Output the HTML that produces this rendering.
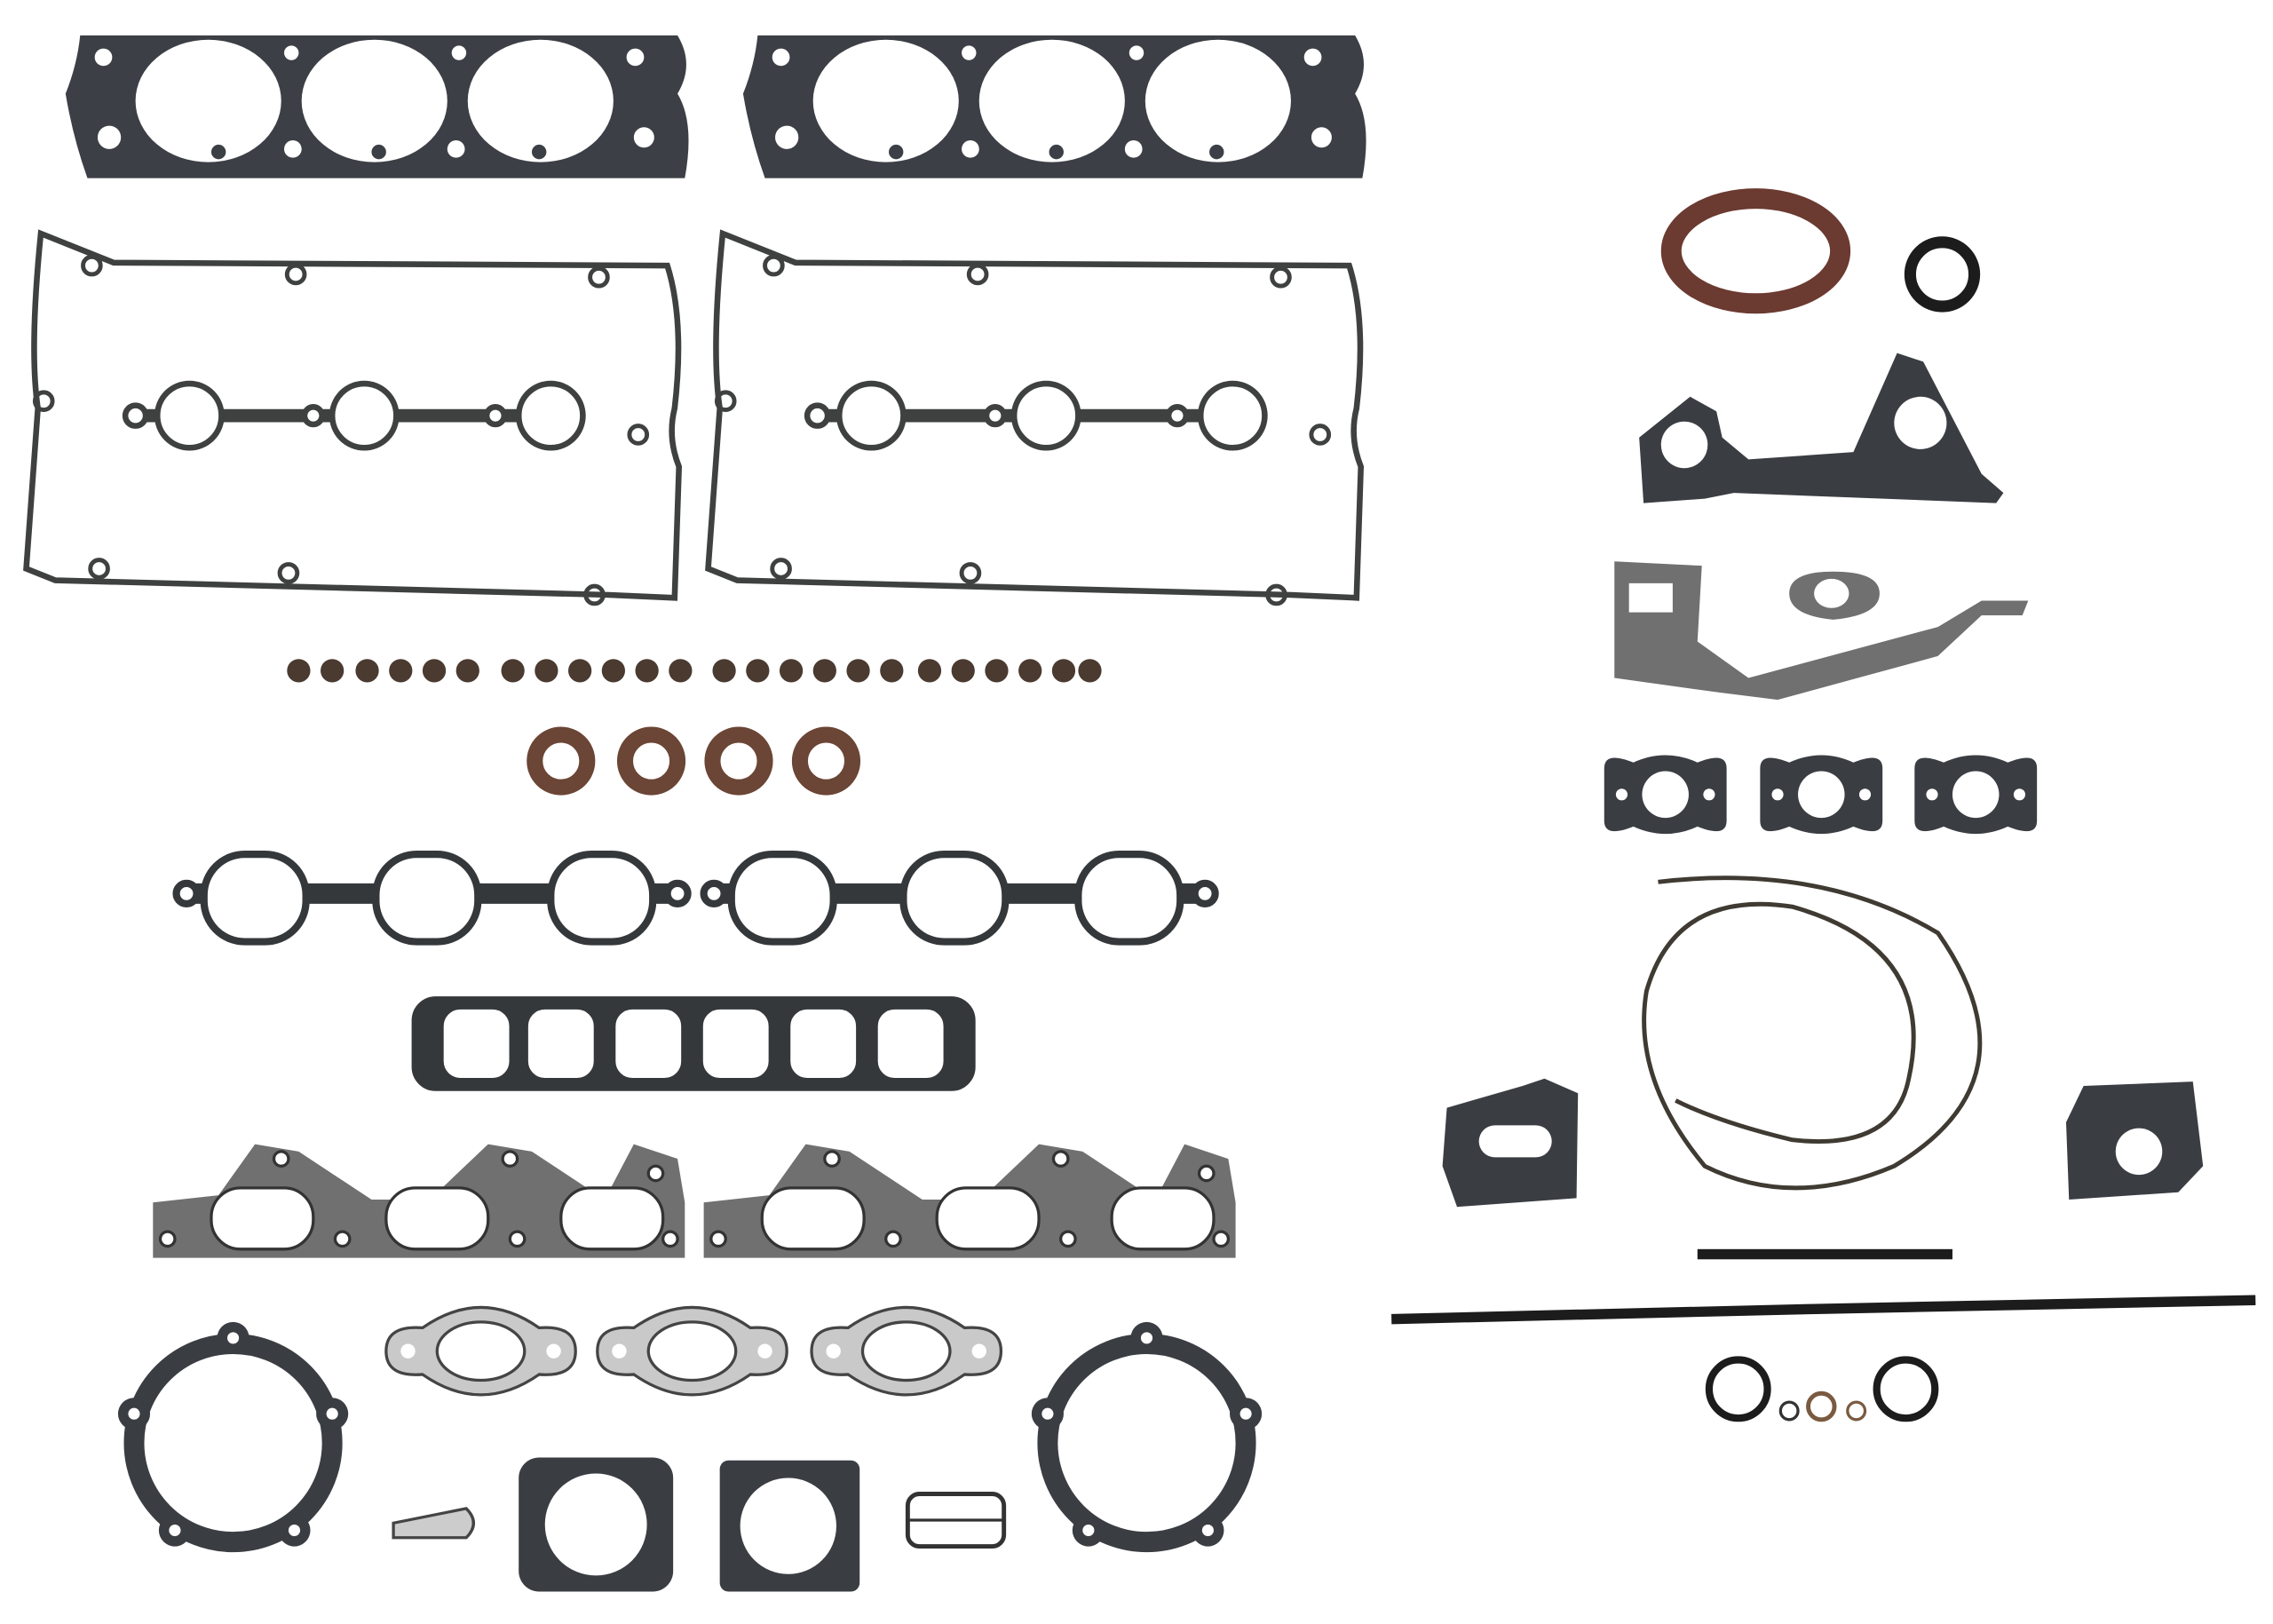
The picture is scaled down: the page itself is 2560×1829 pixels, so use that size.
<!DOCTYPE html>
<html><head><meta charset="utf-8"><style>html,body{margin:0;padding:0;background:#fff}svg{display:block}</style></head>
<body>
<svg width="2560" height="1829" viewBox="0 0 1560 1114" xmlns="http://www.w3.org/2000/svg">
<rect width="1560" height="1114" fill="#fff"/>
<defs>
<g id="head">
 <path fill-rule="evenodd" fill="#3c3f45" d="M10,0 H420 Q432,20 420,40 Q432,60 425,98 H15 Q5,70 0,40 Q8,20 10,0 Z
 M48,45 a50,42 0 1,0 100,0 a50,42 0 1,0 -100,0 Z
 M162,45 a50,42 0 1,0 100,0 a50,42 0 1,0 -100,0 Z
 M276,45 a50,42 0 1,0 100,0 a50,42 0 1,0 -100,0 Z
 M20,15 a6,6 0 1,0 12,0 a6,6 0 1,0 -12,0 Z M22,70 a8,8 0 1,0 16,0 a8,8 0 1,0 -16,0 Z
 M150,12 a5,5 0 1,0 10,0 a5,5 0 1,0 -10,0 Z M150,78 a6,6 0 1,0 12,0 a6,6 0 1,0 -12,0 Z
 M265,12 a5,5 0 1,0 10,0 a5,5 0 1,0 -10,0 Z M262,78 a6,6 0 1,0 12,0 a6,6 0 1,0 -12,0 Z
 M385,15 a6,6 0 1,0 12,0 a6,6 0 1,0 -12,0 Z M390,70 a7,7 0 1,0 14,0 a7,7 0 1,0 -14,0 Z
 M100,80 a5,5 0 1,0 10,0 a5,5 0 1,0 -10,0 Z M210,80 a5,5 0 1,0 10,0 a5,5 0 1,0 -10,0 Z M320,80 a5,5 0 1,0 10,0 a5,5 0 1,0 -10,0 Z"/>
</g>
<g id="vc" fill="none" stroke="#3e4140">
 <path stroke-width="4" d="M10,0 L60,20 L440,22 Q452,60 445,120 Q440,140 448,160 L445,250 L400,248 L20,238 L0,230 L8,120 Q2,80 10,0 Z"/>
 <g stroke-width="3"><circle cx="45" cy="22" r="6"/><circle cx="185" cy="28" r="6"/><circle cx="393" cy="30" r="6"/><circle cx="420" cy="138" r="6"/><circle cx="12" cy="115" r="6"/><circle cx="50" cy="230" r="6"/><circle cx="180" cy="233" r="6"/><circle cx="390" cy="248" r="6"/></g>
 <path stroke-width="9" d="M80,125 H380"/>
 <g stroke-width="4" fill="#fff"><circle cx="112" cy="125" r="22"/><circle cx="232" cy="125" r="22"/><circle cx="360" cy="125" r="22"/><circle cx="75" cy="125" r="7"/><circle cx="197" cy="125" r="6"/><circle cx="322" cy="125" r="6"/></g>
</g>
<g id="im" fill="#fff" stroke="#35383b" stroke-width="5">
 <path stroke-width="14" d="M10,35 H340"/>
 <rect x="20" y="8" width="70" height="60" rx="28"/><rect x="138" y="8" width="70" height="60" rx="28"/><rect x="258" y="8" width="70" height="60" rx="28"/>
 <circle cx="8" cy="35" r="7"/><circle cx="345" cy="35" r="7"/>
</g>
<g id="ex">
 <path fill="#707070" d="M0,40 L45,35 L70,0 L100,5 L150,38 L190,38 L230,0 L260,5 L310,38 L330,0 L360,10 L365,40 L365,78 L0,78 Z"/>
 <g fill="#fff" stroke="#333" stroke-width="2"><rect x="40" y="30" width="70" height="42" rx="20"/><rect x="160" y="30" width="70" height="42" rx="20"/><rect x="280" y="30" width="70" height="42" rx="20"/>
 <circle cx="10" cy="65" r="5"/><circle cx="88" cy="10" r="5"/><circle cx="245" cy="10" r="5"/><circle cx="345" cy="20" r="5"/><circle cx="355" cy="65" r="5"/><circle cx="130" cy="65" r="5"/><circle cx="250" cy="65" r="5"/></g>
</g>
<g id="fl"><path fill="#c9c9c9" stroke="#444" stroke-width="2" d="M0,30 Q0,12 25,14 Q45,0 65,0 Q85,0 105,14 Q130,12 130,30 Q130,48 105,46 Q85,60 65,60 Q45,60 25,46 Q0,48 0,30 Z"/>
<ellipse cx="65" cy="30" rx="30" ry="20" fill="#fff" stroke="#444" stroke-width="2"/><circle cx="15" cy="30" r="5" fill="#fff"/><circle cx="115" cy="30" r="5" fill="#fff"/></g>
<g id="ring"><circle r="68" fill="none" stroke="#3a3d42" stroke-width="14"/>
<g fill="#3a3d42"><circle cx="0" cy="-72" r="11"/><circle cx="68" cy="-20" r="11"/><circle cx="-68" cy="-20" r="11"/><circle cx="-40" cy="60" r="11"/><circle cx="42" cy="60" r="11"/></g>
<g fill="#fff"><circle cx="0" cy="-72" r="4"/><circle cx="68" cy="-20" r="4"/><circle cx="-68" cy="-20" r="4"/><circle cx="-40" cy="60" r="4"/><circle cx="42" cy="60" r="4"/></g></g>
<g id="ear"><path fill="#3a3d42" d="M-42,-18 Q-42,-30 -22,-22 Q0,-32 22,-22 Q42,-30 42,-18 L42,18 Q42,30 22,22 Q0,32 -22,22 Q-42,30 -42,18 Z"/>
<circle r="16" fill="#fff"/><circle cx="-30" r="4" fill="#fff"/><circle cx="30" r="4" fill="#fff"/></g>
</defs>

<use href="#head" x="45" y="24"/>
<use href="#head" x="510" y="24"/>
<use href="#vc" x="18" y="160"/>
<use href="#vc" x="486" y="160"/>

<g fill="#4a3a30">
<circle cx="205" cy="460" r="8"/><circle cx="228" cy="460" r="8"/><circle cx="252" cy="460" r="8"/><circle cx="275" cy="460" r="8"/><circle cx="298" cy="460" r="8"/><circle cx="321" cy="460" r="8"/>
<circle cx="352" cy="460" r="8"/><circle cx="375" cy="460" r="8"/><circle cx="398" cy="460" r="8"/><circle cx="421" cy="460" r="8"/><circle cx="444" cy="460" r="8"/><circle cx="467" cy="460" r="8"/>
<circle cx="497" cy="460" r="8"/><circle cx="520" cy="460" r="8"/><circle cx="543" cy="460" r="8"/><circle cx="566" cy="460" r="8"/><circle cx="589" cy="460" r="8"/><circle cx="612" cy="460" r="8"/>
<circle cx="638" cy="460" r="8"/><circle cx="661" cy="460" r="8"/><circle cx="684" cy="460" r="8"/><circle cx="707" cy="460" r="8"/><circle cx="730" cy="460" r="8"/><circle cx="748" cy="460" r="8"/>
</g>
<g fill="none" stroke="#6b4535" stroke-width="11"><circle cx="385" cy="522" r="18"/><circle cx="447" cy="522" r="18"/><circle cx="507" cy="522" r="18"/><circle cx="567" cy="522" r="18"/></g>

<use href="#im" x="120" y="578"/>
<use href="#im" x="482" y="578"/>

<g fill="#fff" stroke="#35383b" stroke-width="5">
<rect x="285" y="686" width="382" height="60" rx="14" fill="#35383b"/>
<rect x="302" y="690" width="50" height="52" rx="14"/><rect x="360" y="690" width="50" height="52" rx="14"/><rect x="420" y="690" width="50" height="52" rx="14"/><rect x="480" y="690" width="50" height="52" rx="14"/><rect x="540" y="690" width="50" height="52" rx="14"/><rect x="600" y="690" width="50" height="52" rx="14"/>
</g>

<use href="#ex" x="105" y="785"/>
<use href="#ex" x="483" y="785"/>

<use href="#fl" x="265" y="897"/><use href="#fl" x="410" y="897"/><use href="#fl" x="557" y="897"/>
<use href="#ring" x="160" y="990"/><use href="#ring" x="787" y="990"/>
<path d="M270,1045 L320,1035 Q330,1045 320,1055 L270,1055 Z" fill="#ccc" stroke="#444" stroke-width="2"/>
<rect x="356" y="1000" width="106" height="92" rx="14" fill="#3a3d42"/><circle cx="409" cy="1046" r="35" fill="#fff"/>
<rect x="494" y="1002" width="96" height="90" rx="6" fill="#3a3d42"/><circle cx="541" cy="1047" r="33" fill="#fff"/>
<rect x="623" y="1025" width="66" height="36" rx="8" fill="#fff" stroke="#333" stroke-width="3"/><path d="M623,1043 H689" stroke="#333" stroke-width="2"/>

<!-- right side -->
<ellipse cx="1205" cy="172" rx="58" ry="36" fill="none" stroke="#6b3a30" stroke-width="14"/>
<circle cx="1333" cy="188" r="22" fill="none" stroke="#1c1c1c" stroke-width="8"/>
<path fill="#3a3d42" fill-rule="evenodd" d="M1125,300 L1160,272 L1178,282 L1182,300 L1200,315 L1272,310 L1302,242 L1320,248 L1360,325 L1375,338 L1370,345 L1190,338 L1170,342 L1128,345 Z M1140,305 a16,16 0 1,0 32,0 a16,16 0 1,0 -32,0 Z M1300,290 a18,18 0 1,0 36,0 a18,18 0 1,0 -36,0 Z"/>
<path fill="#707070" fill-rule="evenodd" d="M1108,465 L1108,385 L1168,388 L1165,440 L1200,465 L1330,430 L1360,412 L1392,412 L1388,422 L1360,422 L1330,450 L1220,480 L1180,475 Z M1118,400 h30 v20 h-30 Z"/>
<path fill="#707070" fill-rule="evenodd" d="M1228,407 Q1228,392 1258,392 Q1290,392 1290,407 Q1290,422 1258,425 Q1228,422 1228,407 Z M1245,407 a12,10 0 1,0 24,0 a12,10 0 1,0 -24,0 Z"/>
<use href="#ear" x="1143" y="545"/><use href="#ear" x="1250" y="545"/><use href="#ear" x="1356" y="545"/>
<g fill="none" stroke="#3f3a32" stroke-width="3">
<path d="M1138,605 Q1250,592 1330,640 Q1400,740 1300,800 Q1230,830 1170,800 Q1120,740 1130,680 Q1150,610 1230,622 Q1330,650 1310,740 Q1300,790 1230,782 Q1180,770 1150,755"/>
</g>
<path fill="#3a3d42" d="M993,760 L1045,745 L1060,740 L1083,750 L1082,822 L1000,828 L990,800 Z"/>
<rect x="1015" y="772" width="50" height="22" rx="11" fill="#fff"/>
<path fill="#3a3d42" d="M1430,745 L1505,742 L1512,800 L1495,818 L1420,823 L1418,770 Z"/>
<circle cx="1468" cy="790" r="16" fill="#fff"/>
<rect x="1165" y="857" width="175" height="7" fill="#1c1c1c"/>
<path d="M955,905 L1250,898 L1548,892" stroke="#1c1c1c" stroke-width="7" fill="none"/>
<g fill="none"><circle cx="1193" cy="953" r="20" stroke="#1c1c1c" stroke-width="5"/><circle cx="1308" cy="953" r="20" stroke="#1c1c1c" stroke-width="5"/>
<circle cx="1228" cy="968" r="6" stroke="#333" stroke-width="2"/><circle cx="1250" cy="965" r="9" stroke="#7a5a40" stroke-width="3"/><circle cx="1274" cy="968" r="6" stroke="#7a5a40" stroke-width="2"/></g>
</svg>
</body></html>
